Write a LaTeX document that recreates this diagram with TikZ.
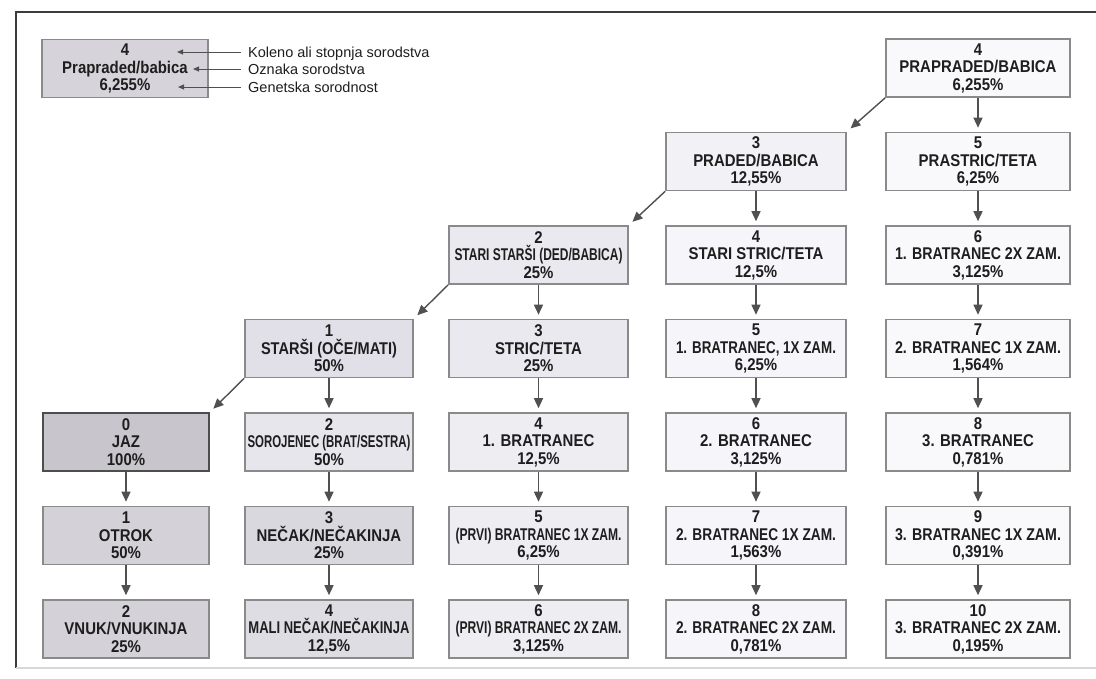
\documentclass[tikz,border=0pt]{standalone}
\usepackage{fontspec}
\usepackage{graphicx}
\setmainfont{Liberation Sans}
\newfontfamily\boxfont[FakeStretch=0.88]{Liberation Sans}
\usetikzlibrary{arrows.meta}
\definecolor{framec}{HTML}{3C3C3C}
\definecolor{framelt}{HTML}{D8D8D8}
\definecolor{boxline}{HTML}{8A8A8A}
\definecolor{jazline}{HTML}{4D4D4D}
\definecolor{arrc}{HTML}{505050}
\definecolor{txt}{HTML}{1E1E1E}
\definecolor{fJaz}{HTML}{C8C6CC}
\definecolor{fOtr}{HTML}{D4D2D8}
\definecolor{fLeg}{HTML}{D6D4DA}
\definecolor{fStarsi}{HTML}{E1DFE7}
\definecolor{fSoro}{HTML}{E8E6ED}
\definecolor{fNec}{HTML}{DAD8DF}
\definecolor{fMali}{HTML}{DFDDE4}
\definecolor{fCa}{HTML}{EBE9F0}
\definecolor{fCb}{HTML}{EEEDF2}
\definecolor{fDa}{HTML}{F2F1F5}
\definecolor{fD}{HTML}{F6F5F9}
\definecolor{fE}{HTML}{F9F8FB}
\newcommand\sqz[2]{\resizebox{#1pt}{\height}{#2}}
\tikzset{
  box/.style={draw=boxline, line width=1.6pt, minimum height=58pt, inner sep=0pt,
    align=center, text=txt, font=\boxfont\bfseries\fontsize{17}{17.5}\selectfont},
  wa/.style={minimum width=166pt},
  wb/.style={minimum width=168pt},
  wc/.style={minimum width=179pt},
  wd/.style={minimum width=180pt},
  we/.style={minimum width=184pt},
  arr/.style={draw=arrc, line width=1.4pt, -{Triangle[length=10pt,width=9pt]}, shorten >=4pt},
  darr/.style={arr, shorten >=5pt},
  leg/.style={inner sep=0pt, text=txt, font=\fontsize{14.5}{16}\selectfont},
  legarr/.style={draw=arrc, line width=1pt, -{Triangle[length=6pt,width=5pt]}, shorten <=7pt},
  frm/.style={draw=framec, line width=1.3pt}
}
\begin{document}
\begin{tikzpicture}[x=1pt,y=-1pt]
\useasboundingbox (0,0) rectangle (1096,678);
\fill[white] (0,0) rectangle (1096,678);
\coordinate (fr1) at (1096,12);
\coordinate (fr2) at (16,12);
\coordinate (fr3) at (16,668);
\coordinate (fr4) at (1096,668);
\draw[frm] (fr1) -- (fr2) -- (fr3);
\draw[draw=framelt, line width=1.5pt] (fr3) -- (fr4);

% legend
\node[box,wa,fill=fLeg] (leg) at (125,68.5) {4\\Prapraded/babica\\6,255\%};
\coordinate (a1) at (177,52);
\coordinate (a2) at (193,69);
\coordinate (a3) at (178,87);
\node[leg,anchor=base west] (l1) at (248,57) {Koleno ali stopnja sorodstva};
\node[leg,anchor=base west] (l2) at (248,74) {Oznaka sorodstva};
\node[leg,anchor=base west] (l3) at (248,92) {Genetska sorodnost};
\draw[legarr] (l1.west |- a1) -- (a1);
\draw[legarr] (l2.west |- a2) -- (a2);
\draw[legarr] (l3.west |- a3) -- (a3);

% row 0
\node[box,we,fill=fE] (p4) at (978,68) {4\\PRAPRADED/BABICA\\6,255\%};
% row 1
\node[box,wd,fill=fDa] (pd) at (756,161.5) {3\\PRADED/BABICA\\12,55\%};
\node[box,we,fill=fE] (ps) at (978,161.5) {5\\PRASTRIC/TETA\\6,25\%};
% row 2
\node[box,wc,fill=fCa] (ss) at (538.5,255) {2\\\sqz{168}{STARI STARŠI (DED/BABICA)}\\25\%};
\node[box,wd,fill=fD] (sst) at (756,255) {4\\STARI STRIC/TETA\\12,5\%};
\node[box,we,fill=fE] (b12) at (978,255) {6\\\sqz{166}{1. BRATRANEC 2X ZAM.}\\3,125\%};
% row 3
\node[box,wb,fill=fStarsi] (st) at (329,348.5) {1\\\sqz{136}{STARŠI (OČE/MATI)}\\50\%};
\node[box,wc,fill=fCa] (strt) at (538.5,348.5) {3\\STRIC/TETA\\25\%};
\node[box,wd,fill=fD] (b11) at (756,348.5) {5\\\sqz{160}{1. BRATRANEC, 1X ZAM.}\\6,25\%};
\node[box,we,fill=fE] (b21a) at (978,348.5) {7\\\sqz{166}{2. BRATRANEC 1X ZAM.}\\1,564\%};
% row 4
\node[box,wa,fill=fJaz,draw=jazline] (jaz) at (126,442) {0\\JAZ\\100\%};
\node[box,wb,fill=fSoro] (sor) at (329,442) {2\\\sqz{163}{SOROJENEC (BRAT/SESTRA)}\\50\%};
\node[box,wc,fill=fCb] (b1) at (538.5,442) {4\\1. BRATRANEC\\12,5\%};
\node[box,wd,fill=fD] (b2) at (756,442) {6\\2. BRATRANEC\\3,125\%};
\node[box,we,fill=fE] (b3) at (978,442) {8\\3. BRATRANEC\\0,781\%};
% row 5
\node[box,wa,fill=fOtr] (otr) at (126,535.5) {1\\OTROK\\50\%};
\node[box,wb,fill=fNec] (nec) at (329,535.5) {3\\NEČAK/NEČAKINJA\\25\%};
\node[box,wc,fill=fCb] (pb1) at (538.5,535.5) {5\\\sqz{166}{(PRVI) BRATRANEC 1X ZAM.}\\6,25\%};
\node[box,wd,fill=fD] (b21) at (756,535.5) {7\\\sqz{160}{2. BRATRANEC 1X ZAM.}\\1,563\%};
\node[box,we,fill=fE] (b31) at (978,535.5) {9\\\sqz{166}{3. BRATRANEC 1X ZAM.}\\0,391\%};
% row 6
\node[box,wa,fill=fOtr] (vnuk) at (126,629) {2\\VNUK/VNUKINJA\\25\%};
\node[box,wb,fill=fMali] (mali) at (329,629) {4\\\sqz{161}{MALI NEČAK/NEČAKINJA}\\12,5\%};
\node[box,wc,fill=fCb] (pb2) at (538.5,629) {6\\\sqz{166}{(PRVI) BRATRANEC 2X ZAM.}\\3,125\%};
\node[box,wd,fill=fD] (b22) at (756,629) {8\\\sqz{160}{2. BRATRANEC 2X ZAM.}\\0,781\%};
\node[box,we,fill=fE] (b32) at (978,629) {10\\\sqz{166}{3. BRATRANEC 2X ZAM.}\\0,195\%};

% diagonal arrows
\draw[darr] (p4.south west) -- (pd.north east);
\draw[darr] (pd.south west) -- (ss.north east);
\draw[darr] (ss.south west) -- (st.north east);
\draw[darr] (st.south west) -- (jaz.north east);

% vertical arrows
\foreach \a/\b in {p4/ps,ps/b12,b12/b21a,b21a/b3,b3/b31,b31/b32,
  pd/sst,sst/b11,b11/b2,b2/b21,b21/b22,
  ss/strt,strt/b1,b1/pb1,pb1/pb2,
  st/sor,sor/nec,nec/mali,
  jaz/otr,otr/vnuk}
  \draw[arr] (\a.south) -- (\b.north);
\end{tikzpicture}
\end{document}
